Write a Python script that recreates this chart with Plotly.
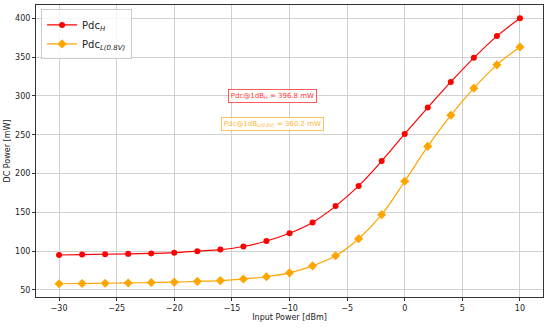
import plotly.graph_objects as go

x_dbm = [-30, -28, -26, -24, -22, -20, -18, -16, -14, -12, -10, -8, -6, -4, -2, 0, 2, 4, 6, 8, 10]
pdc_h = [95, 95.5, 96, 96.5, 97, 98, 100, 102, 106, 113, 123, 137, 158, 184, 216, 251, 285, 318, 349, 377, 400]
pdc_l = [58, 58.3, 58.6, 59, 59.5, 60, 61, 62, 64, 67, 72, 81, 94, 116, 147, 190, 235, 275, 310, 340, 363]

x_ticks = [-30, -25, -20, -15, -10, -5, 0, 5, 10]
y_ticks = [50, 100, 150, 200, 250, 300, 350, 400]

FONT = "DejaVu Sans"
fig = go.Figure()
fig.add_trace(go.Scatter(x=x_dbm, y=pdc_h, mode="lines+markers", line=dict(color="red", width=1.2, shape="spline"),
                         marker=dict(symbol="circle", size=6, color="red"), name="Pdc<sub><i>H</i></sub>"))
fig.add_trace(go.Scatter(x=x_dbm, y=pdc_l, mode="lines+markers", line=dict(color="orange", width=1.2, shape="spline"),
                         marker=dict(symbol="diamond", size=7, color="orange"), name="Pdc<sub><i>L(0.8V)</i></sub>"))

fig.add_annotation(x=-11.5, y=300, text="Pdc@1dB<sub><i>H</i></sub> = 396.8 mW", showarrow=False,
                   font=dict(family=FONT, size=7, color="red"), bgcolor="white", bordercolor="red",
                   borderwidth=0.8, borderpad=2, opacity=0.8)
fig.add_annotation(x=-11.5, y=264, text="Pdc@1dB<sub><i>L(0.8V)</i></sub> = 360.2 mW", showarrow=False,
                   font=dict(family=FONT, size=7, color="orange"), bgcolor="white", bordercolor="orange",
                   borderwidth=0.8, borderpad=2, opacity=0.8)

axis_common = dict(showline=True, linecolor="#333", linewidth=1, mirror=True, ticks="outside", ticklen=3,
                   tickcolor="#333", showgrid=True, gridcolor="#d0d0d0", gridwidth=0.8, zeroline=False,
                   automargin=False, tickfont=dict(family=FONT, size=8, color="#222"))
fig.update_xaxes(range=[-32, 12], tickvals=x_ticks, ticktext=["\u2212" + str(-v) if v < 0 else str(v) for v in x_ticks],
                 title=dict(text="Input Power [dBm]", font=dict(family=FONT, size=8, color="#222"), standoff=2),
                 **axis_common)
fig.update_yaxes(range=[40.9, 417.1], tickvals=y_ticks,
                 title=dict(text="DC Power [mW]", font=dict(family=FONT, size=8, color="#222"), standoff=3),
                 **axis_common)

fig.update_layout(width=550, height=328, margin=dict(l=36, r=7, t=5, b=31), plot_bgcolor="white", paper_bgcolor="white",
                  font=dict(family=FONT),
                  legend=dict(x=0.01, y=0.985, xanchor="left", yanchor="top", bgcolor="rgba(255,255,255,0.8)",
                              bordercolor="#ccc", borderwidth=1, font=dict(family=FONT, size=10, color="#222"),
                              tracegroupgap=0, itemwidth=30))
fig.write_html("out.html", config={"displayModeBar": False},
               post_script="document.body.style.margin='0';document.body.style.overflow='hidden';")
